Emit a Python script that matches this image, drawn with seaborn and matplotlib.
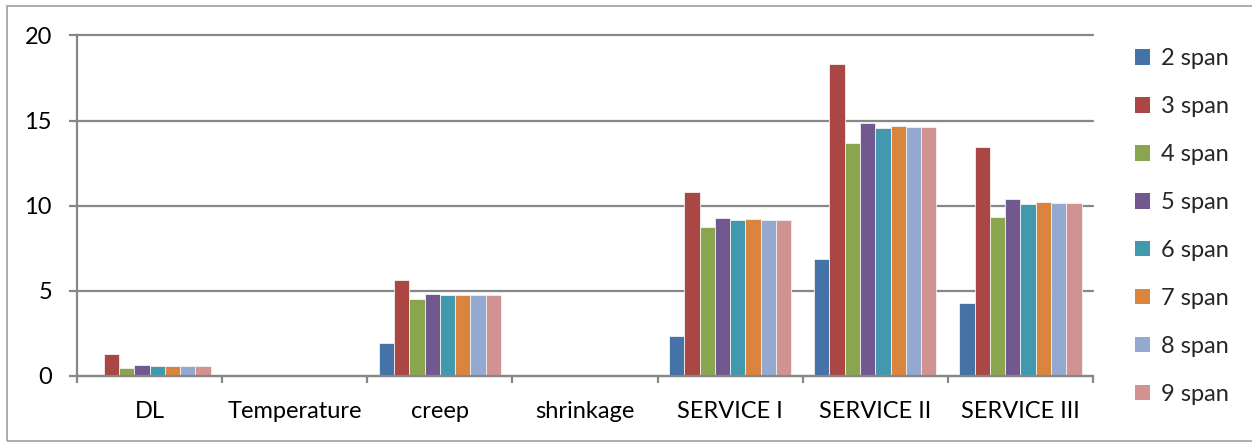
import matplotlib
matplotlib.use("Agg")
import matplotlib.pyplot as plt
import matplotlib.patches as mpatches
from matplotlib.ticker import FixedLocator
import seaborn as sns
import pandas as pd

# Load cases and number of spans
categories = ["DL", "Temperature", "creep", "shrinkage", "SERVICE I", "SERVICE II", "SERVICE III"]
spans = ["2 span", "3 span", "4 span", "5 span", "6 span", "7 span", "8 span", "9 span"]

span2 = [0.0, 0.02, 1.95, 0.0, 2.37, 6.85, 4.26]
span3 = [1.27, 0.02, 5.66, 0.0, 10.8, 18.34, 13.47]
span4 = [0.45, 0.02, 4.52, 0.0, 8.78, 13.66, 9.32]
span5 = [0.64, 0.02, 4.84, 0.0, 9.28, 14.88, 10.4]
span6 = [0.59, 0.02, 4.73, 0.0, 9.15, 14.57, 10.11]
span7 = [0.59, 0.02, 4.77, 0.0, 9.2, 14.66, 10.2]
span8 = [0.59, 0.02, 4.77, 0.0, 9.17, 14.63, 10.17]
span9 = [0.59, 0.02, 4.77, 0.0, 9.18, 14.63, 10.18]
series = [span2, span3, span4, span5, span6, span7, span8, span9]

yticks = [0, 5, 10, 15, 20]

colors = ["#4572A7", "#AA4643", "#89A54E", "#71588F",
          "#4198AF", "#DB843D", "#93A9CF", "#D19392"]

rows = []
for name, vals in zip(spans, series):
    for cat, v in zip(categories, vals):
        rows.append({"case": cat, "span": name, "value": v})
df = pd.DataFrame(rows)

sns.set_style("white")
plt.rcParams["font.family"] = ["Lato", "DejaVu Sans"]

W, H = 1252, 443
fig = plt.figure(figsize=(W / 100, H / 100), dpi=100)
ax = fig.add_axes([77 / W, 1 - 376 / H, (1093 - 77) / W, (376 - 35.5) / H])

sns.barplot(data=df, x="case", y="value", hue="span", order=categories,
            hue_order=spans, palette=colors, width=8 / 9.5, errorbar=None,
            saturation=1, edgecolor="#F2F2F2", linewidth=0.6, ax=ax)

ax.set_xlim(-0.5, len(categories) - 0.5)
ax.set_ylim(0, 20)
ax.set_yticks(yticks)
ax.set_yticklabels([str(t) for t in yticks])
ax.set_xlabel("")
ax.set_ylabel("")

grid_c = "#878787"
ax.yaxis.grid(True, color=grid_c, linewidth=1.6)
for gl in ax.get_ygridlines():
    gl.set_clip_on(False)
ax.set_axisbelow(True)
for s in ["top", "right"]:
    ax.spines[s].set_visible(False)
for s in ["left", "bottom"]:
    ax.spines[s].set_color(grid_c)
    ax.spines[s].set_linewidth(1.6)

ax.tick_params(axis="y", length=6, width=1.6, color=grid_c, pad=12,
               labelsize=17, labelcolor="black", left=True)
ax.tick_params(axis="x", which="major", length=0, pad=18,
               labelsize=17, labelcolor="black")
ax.xaxis.set_minor_locator(FixedLocator([i - 0.5 for i in range(len(categories) + 1)]))
ax.tick_params(axis="x", which="minor", length=5, width=1.6, color=grid_c, bottom=True)

ax.get_legend().remove()
handles = [mpatches.Patch(facecolor=c, edgecolor="none") for c in colors]
fig.legend(handles, spans, loc="upper left", bbox_to_anchor=(1126 / W, 1 - 39 / H),
           frameon=False, fontsize=17, handlelength=0.62, handleheight=0.62,
           handletextpad=0.45, labelspacing=1.14, borderaxespad=0)

fig.patches.append(mpatches.Rectangle((7 / W, 2 / H), 1.0, (441 - 6) / H,
                                      transform=fig.transFigure, fill=False,
                                      edgecolor="#A6A6A6", linewidth=1.3))

fig.savefig("out.png", dpi=100, facecolor="white")
